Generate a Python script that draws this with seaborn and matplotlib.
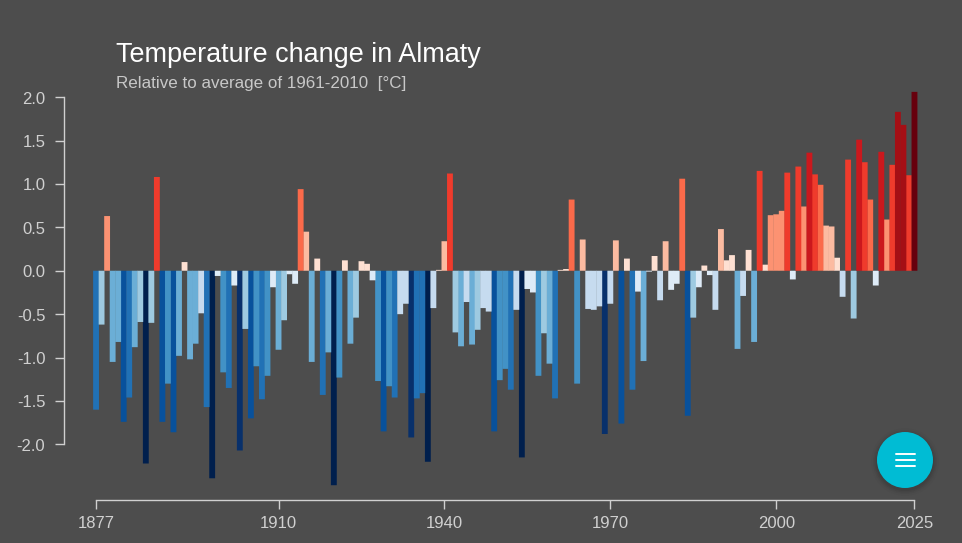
import matplotlib
matplotlib.use("Agg")
import matplotlib.pyplot as plt
from matplotlib.patches import Circle
from matplotlib.lines import Line2D
from matplotlib.transforms import IdentityTransform
import numpy as np
import pandas as pd
import seaborn as sns

years = list(range(1877, 2026))

anomaly = [
    -1.60, -0.62, 0.63, -1.05, -0.82, -1.74, -1.46, -0.88, -0.59, -2.22,
    -0.60, 1.08, -1.74, -1.30, -1.86, -0.98, 0.10, -1.02, -0.84, -0.49,
    -1.57, -2.39, -0.06, -1.17, -1.35, -0.17, -2.07, -0.67, -1.70, -1.10,
    -1.48, -1.21, -0.19, -0.91, -0.57, -0.04, -0.15, 0.94, 0.45, -1.05,
    0.14, -1.43, -0.94, -2.47, -1.23, 0.12, -0.84, -0.54, 0.11, 0.08,
    -0.11, -1.27, -1.85, -1.33, -1.46, -0.50, -0.38, -1.92, -1.47, -1.41,
    -2.20, -0.43, 0.01, 0.34, 1.12, -0.71, -0.87, -0.36, -0.85, -0.68,
    -0.43, -0.47, -1.85, -1.26, -1.13, -1.37, -0.45, -2.15, -0.21, -0.25,
    -1.21, -0.72, -1.07, -1.47, 0.01, 0.02, 0.82, -1.30, 0.36, -0.44,
    -0.45, -0.41, -1.88, -0.38, 0.35, -1.76, 0.14, -1.37, -0.24, -1.04,
    -0.01, 0.17, -0.34, 0.34, -0.22, -0.15, 1.06, -1.67, -0.54, -0.19,
    0.06, -0.05, -0.45, 0.48, 0.12, 0.18, -0.90, -0.29, 0.24, -0.82,
    1.15, 0.07, 0.64, 0.65, 0.69, 1.13, -0.10, 1.20, 0.74, 1.36,
    1.11, 0.99, 0.52, 0.51, 0.15, -0.30, 1.28, -0.55, 1.51, 1.25,
    0.82, -0.17, 1.37, 0.59, 1.22, 1.83, 1.68, 1.10, 2.06,
]

# colour classes, same scale as the warming stripes
bin_edges = [-2.14, -1.87, -1.61, -1.34, -1.07, -0.80, -0.53, -0.27, 0.0,
             0.27, 0.53, 0.80, 1.07, 1.34, 1.61, 1.87]
bin_colors = ["#001f4d", "#08306b", "#08519c", "#2171b5", "#4292c6", "#6baed6",
              "#9ecae1", "#c6dbef", "#deebf7", "#fee0d2", "#fcbba1", "#fc9272",
              "#fb6a4a", "#ef3b2c", "#cb181d", "#a50f15", "#67000d"]

y_ticks = [2.0, 1.5, 1.0, 0.5, 0.0, -0.5, -1.0, -1.5, -2.0]
x_ticks = [1877, 1910, 1940, 1970, 2000, 2025]

title = "Temperature change in Almaty"
subtitle = "Relative to average of 1961-2010  [°C]"

BG = "#4d4d4d"
AXIS = "#d0d0d0"
W, H = 962, 543

sns.set_style("dark")
plt.rcParams["font.family"] = ["Liberation Sans", "DejaVu Sans"]

df = pd.DataFrame({"year": years, "anomaly": anomaly})
df["bin"] = np.digitize(df["anomaly"], bin_edges)
palette = dict(enumerate(bin_colors))

# the .5 keeps savefig from truncating to 961 px
fig = plt.figure(figsize=((W + 0.5) / 100, (H + 0.5) / 100), dpi=100, facecolor=BG)

# axes box in pixels: left spine at 64, x axis at 500
left, right, top, bottom = 64, 925, 60, 500
ax = fig.add_axes([left / W, 1 - bottom / H, (right - left) / W, (bottom - top) / H])
ax.set_facecolor(BG)

# width a touch over 1 so no background shows between neighbours
sns.barplot(
    data=df, x="year", y="anomaly", hue="bin", palette=palette,
    native_scale=True, dodge=False, width=1.06, saturation=1,
    linewidth=0, legend=False, ax=ax,
)

# no snapping, otherwise the bars come out 5 or 6 px wide at random
for bar in ax.patches:
    bar.set_snap(False)

# 5.527 px per year, 86.75 px per degree, zero at y=271
px_year = (914 - 96) / 148
px_deg = 86.75
ax.set_xlim(1877 - (96 - left) / px_year, 2025 + (right - 914) / px_year)
ax.set_ylim(-(bottom - 271) / px_deg, (271 - top) / px_deg)

ax.set_xticks(x_ticks)
ax.set_xticklabels([str(t) for t in x_ticks])
ax.set_yticks(y_ticks)
ax.set_yticklabels([f"{t:.1f}" for t in y_ticks])
ax.set_xlabel("")
ax.set_ylabel("")
ax.grid(False)

ax.tick_params(axis="both", colors=AXIS, labelsize=12, length=6.5, width=1,
               left=True, bottom=True, direction="out")
ax.tick_params(axis="y", pad=7)
ax.tick_params(axis="x", pad=5)

for side in ["top", "right"]:
    ax.spines[side].set_visible(False)
for side in ["left", "bottom"]:
    ax.spines[side].set_color(AXIS)
    ax.spines[side].set_linewidth(1)
ax.spines["left"].set_bounds(-2, 2)
ax.spines["bottom"].set_bounds(1877, 2025)

fig.text(116 / W, 1 - 62 / H, title, color="white", fontsize=19.45, va="baseline")
fig.text(116 / W, 1 - 88 / H, subtitle, color="#c8c8c8", fontsize=12.25, va="baseline")

# round menu button, lower right, drawn in pixel coordinates
cx, cy, r = 905, H - 460, 28
px = IdentityTransform()
for grow, alpha in [(6, 0.02), (4, 0.03), (2.5, 0.05), (1, 0.06)]:
    fig.add_artist(Circle((cx, cy - 2), r + grow, transform=px, fc="black", ec="none", alpha=alpha))
fig.add_artist(Circle((cx, cy), r, transform=px, fc="#00bcd4", ec="none"))
for dy in [-5.6, 0, 5.6]:
    fig.add_artist(Line2D([896, 914.5], [cy + dy, cy + dy], transform=px, color="white", lw=1.4))

fig.savefig("out.png", dpi=100, facecolor=BG)
